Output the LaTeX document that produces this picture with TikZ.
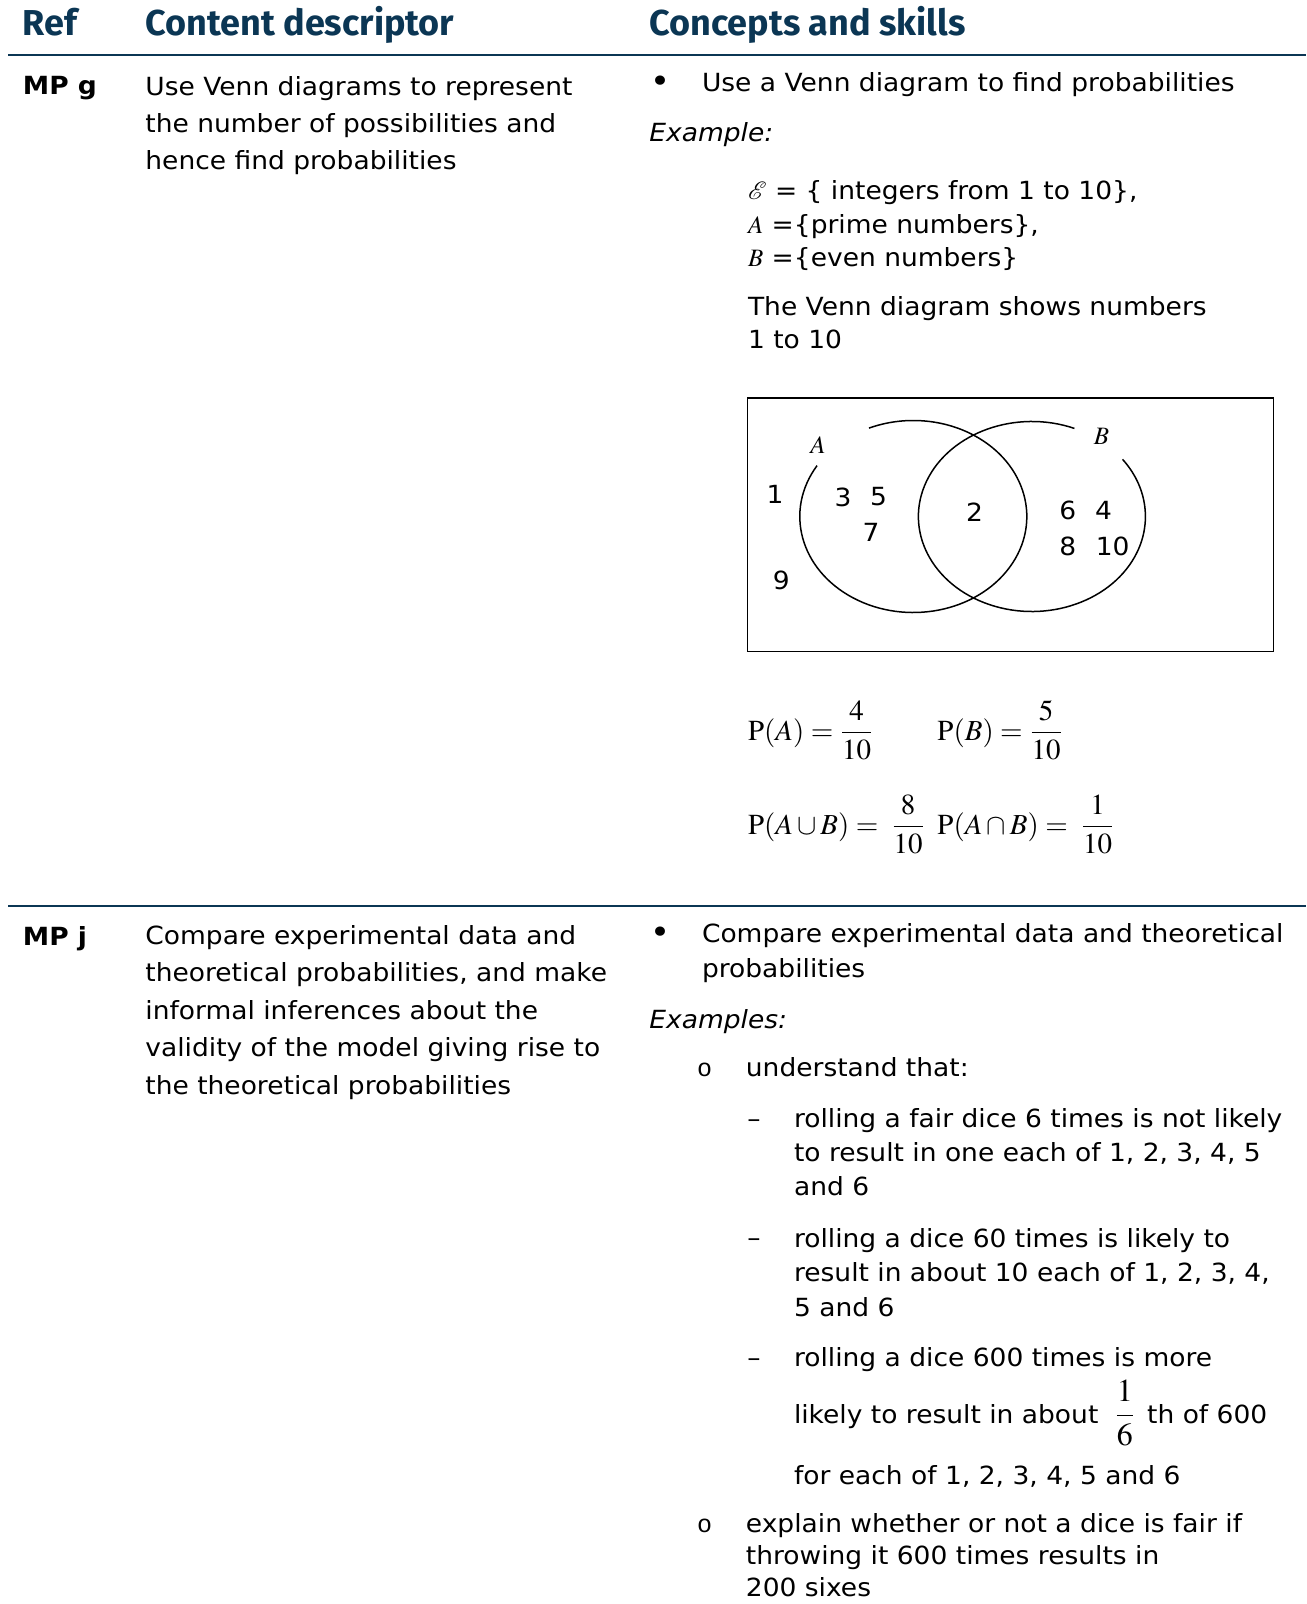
\documentclass[tikz,border=0pt]{standalone}
\usepackage{amsmath}
\usepackage{mathptmx}
\usepackage[no-math]{fontspec}
\setmainfont[FakeStretch=1.06]{DejaVu Sans}
\newfontfamily\headfont{Fira Sans}
\newfontfamily\ringfont{Liberation Mono}
\usetikzlibrary{positioning}
\definecolor{headnavy}{HTML}{0B3654}
\tikzset{
  headtxt/.style={anchor=base west, inner sep=0pt, text=headnavy, font=\headfont\bfseries\fontsize{18}{22}\selectfont},
  reftxt/.style={anchor=base west, inner sep=0pt, font=\bfseries\fontsize{12.5}{15}\selectfont},
  desctxt/.style={anchor=base west, inner sep=0pt, align=left, font=\fontsize{12.5}{18.7}\selectfont},
  skilltxt/.style={anchor=base west, inner sep=0pt, align=left, font=\fontsize{12.5}{17.15}\selectfont},
  dotmark/.style={anchor=base, inner sep=0pt, font=\fontsize{16}{18}\selectfont},
  dashmark/.style={anchor=base, inner sep=0pt, font=\fontsize{12.5}{15}\selectfont},
  ringmark/.style={anchor=base, inner sep=0pt, font=\ringfont\fontsize{12.5}{15}\selectfont},
  eqtxt/.style={anchor=base west, inner sep=0pt, font=\fontsize{14.5}{17}\selectfont},
  vennnum/.style={inner sep=0pt, font=\fontsize{12.5}{15}\selectfont},
  setlabel/.style={inner sep=0pt, font=\fontsize{12.5}{15}\selectfont},
  tablerule/.style={headnavy, line width=1.1pt},
  vennline/.style={line width=0.75pt}
}

\begin{document}
\begin{tikzpicture}[x=0.5pt,y=-0.5pt]
  \useasboundingbox (0,0) rectangle (1306,1604);
  % header (multi-line nodes sit on the baseline of their last line)
  \node[headtxt] (hdref) at (22.5,36) {Ref};
  \node[headtxt] (hddesc) at (145,36) {Content descriptor};
  \node[headtxt] (hdskill) at (649,36) {Concepts and skills};
  \draw[tablerule] (8,55) -- (1306,55);

  % MP g
  \node[reftxt] (refg) at (22.5,95) {MP g};
  \node[desctxt] (descg) at (145,170) {Use Venn diagrams to represent\\the number of possibilities and\\hence find probabilities};
  \node[dotmark] (dotg) at (660,93) {•};
  \node[skilltxt] (skillg) at (701.6,92) {Use a Venn diagram to find probabilities};
  \node[skilltxt] (exg) at (649,142) {\itshape Example:};
  \node[skilltxt, font=\fontsize{12.5}{16.75}\selectfont] (setdef) at (747.6,267) {$\mathcal{E}$ = \{ integers from 1 to 10\},\\$A$ =\{prime numbers\},\\$B$ =\{even numbers\}};
  \node[skilltxt, font=\fontsize{12.5}{16.5}\selectfont] (venntxt) at (747.6,349) {The Venn diagram shows numbers\\1 to 10};

  % Venn diagram
  \draw[line width=0.8pt] (747.6,398) rectangle (1273.3,651.5);
  \coordinate (cA) at (913.3,516.5);
  \coordinate (cB) at (1031.9,516.5);
  \draw[vennline] (cA) ++(-148:113.5 and 96) arc[start angle=-148, end angle=-473, x radius=113.5, y radius=96];
  \draw[vennline] (cB) ++(-68:113.5 and 95) arc[start angle=-68, end angle=-397, x radius=113.5, y radius=95];
  \node[setlabel] (lblA) at (818,445) {$A$};
  \node[setlabel] (lblB) at (1101.5,436) {$B$};
  \node[vennnum] (n1) at (775,494) {1};
  \node[vennnum] (n3) at (843,497) {3};
  \node[vennnum] (n5) at (878.5,497) {5};
  \node[vennnum] (n7) at (871,532) {7};
  \node[vennnum] (n9) at (781.3,580) {9};
  \node[vennnum] (n2) at (974.6,512) {2};
  \node[vennnum] (n6) at (1067.7,510) {6};
  \node[vennnum] (n4) at (1103.5,510) {4};
  \node[vennnum] (n8) at (1067.7,546) {8};
  \node[vennnum] (n10) at (1112.7,546) {10};

  % probabilities
  \node[eqtxt] (pA) at (747.6,740) {$\mathrm{P}(A) = \dfrac{4}{10}$};
  \node[eqtxt] (pB) at (937,740) {$\mathrm{P}(B) = \dfrac{5}{10}$};
  \node[eqtxt] (pAuB) at (747.6,834) {$\mathrm{P}(A\cup B) =\,\, \dfrac{8}{10}$};
  \node[eqtxt] (pAnB) at (937,834) {$\mathrm{P}(A\cap B) =\,\, \dfrac{1}{10}$};

  \draw[tablerule, line width=0.9pt] (8,906) -- (1306,906);

  % MP j
  \node[reftxt] (refj) at (22.5,945) {MP j};
  \node[desctxt] (descj) at (145,1094) {Compare experimental data and\\theoretical probabilities, and make\\informal inferences about the\\validity of the model giving rise to\\the theoretical probabilities};
  \node[dotmark] (dotj) at (660,943) {•};
  \node[skilltxt, font=\fontsize{12.5}{17.5}\selectfont] (skillj) at (701.6,977) {Compare experimental data and theoretical\\probabilities};
  \node[skilltxt] (exj) at (649,1028) {\itshape Examples:};
  \node[ringmark] (ring1) at (704.6,1076) {o};
  \node[skilltxt] (undst) at (745.5,1076) {understand that:};
  \node[dashmark] (dash1) at (754,1127) {–};
  \node[skilltxt] (roll1) at (793.6,1195.6) {rolling a fair dice 6 times is not likely\\to result in one each of 1, 2, 3, 4, 5\\and 6};
  \node[dashmark] (dash2) at (754,1246.7) {–};
  \node[skilltxt] (roll2) at (793.6,1316) {rolling a dice 60 times is likely to\\result in about 10 each of 1, 2, 3, 4,\\5 and 6};
  \node[dashmark] (dash3) at (754,1366) {–};
  \node[skilltxt] (roll3a) at (793.6,1366) {rolling a dice 600 times is more};
  \node[skilltxt] (roll3b) at (793.6,1423.6) {likely to result in about\hspace{8pt}{\fontsize{16}{18}\selectfont$\dfrac{1}{6}$}\hspace{6pt}th of 600};
  \node[skilltxt] (roll3c) at (793.6,1484) {for each of 1, 2, 3, 4, 5 and 6};
  \node[ringmark] (ring2) at (704.6,1532) {o};
  \node[skilltxt, font=\fontsize{12.5}{16}\selectfont] (expl) at (745.5,1596) {explain whether or not a dice is fair if\\throwing it 600 times results in\\200 sixes};
\end{tikzpicture}
\end{document}
